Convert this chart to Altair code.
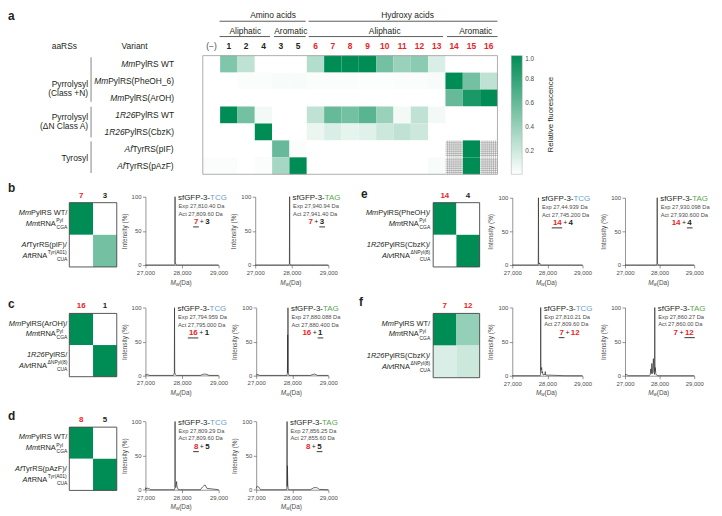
import altair as alt
import pandas as pd

W, H = 714, 508


def X(v):
    return v - 8


def Y(v):
    return v - 8


FONT = "Liberation Sans"
GREEN = "#008c55"
RED = "#ec2227"
DARK = "#231f20"
MID = "#4d4d4d"
TCG_C = "#6b9cc9"
TAG_C = "#5aa552"

# ---------------------------------------------------------------- data
a_columns = ["(−)", "1", "2", "4", "3", "5", "6", "7", "8", "9", "10", "11", "12", "13", "14", "15", "16"]
a_rows = ["MmPylRS WT", "MmPylRS(PheOH_6)", "MmPylRS(ArOH)", "1R26PylRS WT",
          "1R26PylRS(CbzK)", "AfTyrRS(pIF)", "AfTyrRS(pAzF)"]
a_values = [
    [0.00, 0.50, 0.25, 0.00, 0.00, 0.00, 0.30, 1.00, 1.00, 1.00, 0.55, 0.40, 0.45, 0.15, 0.00, 0.00, 0.00],
    [0.00, 0.00, 0.02, 0.02, 0.03, 0.03, 0.02, 0.02, 0.02, 0.01, 0.01, 0.02, 0.02, 0.03, 1.00, 0.55, 0.25],
    [0.00, 0.00, 0.00, 0.00, 0.00, 0.00, 0.00, 0.00, 0.00, 0.00, 0.00, 0.00, 0.00, 0.00, 0.60, 0.90, 1.00],
    [0.00, 1.00, 0.55, 0.05, 0.00, 0.00, 0.25, 0.60, 0.55, 0.65, 0.40, 0.05, 0.25, 0.05, 0.00, 0.00, 0.00],
    [0.00, 0.00, 0.00, 1.00, 0.00, 0.00, 0.08, 0.15, 0.10, 0.12, 0.20, 0.25, 0.20, 0.00, 0.00, 0.00, 0.00],
    [0.00, 0.00, 0.00, 0.00, 0.60, 0.02, 0.00, 0.00, 0.00, 0.00, 0.00, 0.00, 0.00, 0.00, None, 1.00, None],
    [0.02, 0.02, 0.00, 0.02, 0.35, 1.00, 0.00, 0.00, 0.00, 0.00, 0.00, 0.00, 0.00, 0.03, None, 1.00, None],
]
a_groups = [(["Pyrrolysyl", "(Class +N)"], [82, 91], 55, 100),
            (["Pyrrolysyl", "(ΔN Class A)"], [115, 124], 105, 136),
            (["Tyrosyl"], [157], 140, 172)]

heat_b = [[1.0, 0.0], [0.0, 0.55]]
heat_c = [[1.0, 0.0], [0.0, 1.0]]
heat_d = [[1.0, 0.0], [0.0, 1.0]]
heat_e = [[1.0, 0.0], [0.0, 1.0]]
heat_f = [[1.0, 0.42], [0.15, 0.20]]

# mass spectra (Da, intensity %)
b_tcg_mass = [27000, 27790, 27800, 27805, 27809.6, 27813, 27820, 27830, 27840, 29000]
b_tcg_int = [0, 0, 0.5, 2, 100, 3, 1.5, 2, 0, 0]
b_tag_mass = [27000, 27925, 27935, 27941.4, 27946, 27955, 27965, 29000]
b_tag_int = [0, 0, 1, 100, 2, 1.5, 0, 0]
c_tcg_mass = [27000, 27010, 27030, 27060, 27100, 27760, 27775, 27790, 27795, 27800, 27810, 27830, 27850,
              28500, 28560, 28620, 28680, 28740, 29000]
c_tcg_int = [0, 1.5, 1, 1.5, 0, 0, 1, 4, 100, 5, 2, 1, 0, 0, 1.5, 2, 1.5, 0, 0]
c_tag_mass = [27000, 27020, 27050, 27100, 27850, 27865, 27872, 27876, 27880.4, 27885, 27895, 27910,
              28500, 28570, 28620, 28700, 29000]
c_tag_int = [0, 1.5, 1, 0, 0, 3, 60, 4, 100, 5, 2, 0, 0, 1.5, 2, 0, 0]
d_tcg_mass = [27000, 27010, 27030, 27050, 27080, 27100, 27130, 27790, 27800, 27805, 27809.6, 27815, 27830,
              27845, 27852, 27860, 27875, 27900, 28500, 28560, 28600, 28630, 28680, 29000]
d_tcg_int = [0, 3, 1, 2.5, 1.5, 2, 0, 0, 1, 3, 100, 5, 3, 8, 12, 6, 3, 0, 0, 4, 6, 7, 2, 0]
d_tag_mass = [27000, 27020, 27040, 27070, 27100, 27130, 27840, 27850, 27855.6, 27860, 27866, 27870, 27875,
              27885, 27900, 28500, 28550, 28600, 28650, 28700, 28750, 29000]
d_tag_int = [2, 4.5, 5, 4, 1.5, 0, 0, 1, 100, 5, 35, 20, 8, 2, 0, 0, 1.5, 3, 3.2, 2.5, 0.5, 0]
e_tcg_mass = [27000, 27730, 27740, 27745.2, 27750, 27760, 27780, 27790, 27800, 29000]
e_tcg_int = [0, 0, 1, 100, 3, 1, 3, 1, 0, 0]
e_tag_mass = [27000, 27915, 27925, 27930.6, 27936, 27945, 27960, 29000]
e_tag_int = [0, 0, 1.5, 100, 3, 1.5, 0, 0]
f_tcg_mass = [27000, 27795, 27805, 27809.6, 27815, 27830, 27838, 27845, 27860, 27868, 27880, 27930, 27940,
              27950, 28500, 29000]
f_tcg_int = [0, 0, 2, 100, 8, 10, 12, 4, 6, 3, 1, 2, 6, 1, 0, 0]
f_tag_mass = [27000, 27030, 27060, 27100, 27700, 27730, 27745, 27760, 27775, 27790, 27800, 27820, 27835,
              27850, 27855, 27860, 27865, 27875, 27890, 27910, 27950, 28500, 29000]
f_tag_int = [1.5, 2, 1, 0, 0, 2, 10, 3, 18, 5, 3, 25, 6, 4, 2, 100, 6, 12, 3, 1, 0, 0, 0]

# ---------------------------------------------------------------- helpers
_W = {' ': 278, '!': 278, '(': 333, ')': 333, '+': 584, ',': 278, '-': 333, '.': 278, '/': 278,
      ':': 278, '_': 556, '%': 889, 'Δ': 612, '−': 584}
for _ch in '0123456789':
    _W[_ch] = 556
_W.update(dict(zip('ABCDEFGHIJKLMNOPQRSTUVWXYZ',
                   [667, 667, 722, 722, 667, 611, 778, 722, 278, 500, 667, 556, 833, 722, 778, 667, 778,
                    722, 667, 611, 722, 667, 944, 667, 667, 611])))
_W.update(dict(zip('abcdefghijklmnopqrstuvwxyz',
                   [556, 556, 500, 556, 556, 278, 556, 556, 222, 222, 500, 222, 833, 556, 556, 556, 556,
                    333, 500, 278, 556, 500, 722, 500, 500, 500])))


def tw(s, size, bold=False):
    return sum(_W.get(c, 556) for c in s) * size / 1000.0 * (1.07 if bold else 1.0)


TEXT = []
RULES = []


def txt(x, y, t, size=8.0, color=DARK, weight="normal", style="normal", align="left",
        baseline="middle", angle=0):
    TEXT.append(dict(x=X(x), y=Y(y), t=t, s=float(size), c=color, weight=weight, style=style,
                     align=align, baseline=baseline, a=angle))


def rich(x, y, parts, align="left"):
    # parts: (text, size, style, weight, color, dy)
    total = sum(tw(p[0], p[1], p[3] == "bold") for p in parts)
    cur = x - total if align == "right" else (x - total / 2 if align == "center" else x)
    for t, size, style, weight, color, dy in parts:
        if t:
            txt(cur, y + dy, t, size, color, weight, style)
        cur += tw(t, size, weight == "bold")


def rule(x1, y1, x2, y2, c=DARK, w=0.8):
    RULES.append(dict(x=X(x1), y=Y(y1), x2=X(x2), y2=Y(y2), c=c, w=float(w)))


def italic_split(label, prefixes=("1R26", "Alv", "Mm", "Af")):
    for p in prefixes:
        if label.startswith(p):
            return p, label[len(p):]
    return "", label


PXS = alt.Scale(domain=[0, W], range=[0, W], nice=False, zero=False)
PYS = alt.Scale(domain=[0, H], range=[0, H], nice=False, zero=False)

CSCALE = alt.Scale(type="linear", domain=[0, 1], range=["#ffffff", GREEN], interpolate="rgb",
                   nice=False, zero=False)
LEGEND = alt.Legend(orient="none", legendX=X(517), legendY=Y(53.3), direction="vertical",
                    gradientLength=120, gradientThickness=11, values=[0.2, 0.4, 0.6, 0.8, 1.0],
                    format=".1f", title=None, labelFont=FONT, labelFontSize=6.5, labelColor=MID,
                    labelOffset=3, gradientStrokeColor="#aaaaaa", gradientStrokeWidth=0.5)


def color_enc():
    return alt.Color("v:Q", scale=CSCALE, legend=LEGEND)


layers = []

# ---------------------------------------------------------------- panel a
ax0, ax1, ay0, ay1 = 205, 503, 53.3, 173.3
ncol, nrow = len(a_columns), len(a_rows)
cw = (ax1 - ax0) / ncol
rh = (ay1 - ay0) / nrow
AX = alt.Scale(domain=[0, ncol], range=[X(ax0), X(ax1)], nice=False, zero=False)
AY = alt.Scale(domain=[0, nrow], range=[Y(ay0), Y(ay1)], nice=False, zero=False)

cells, hatch = [], []
for r, row in enumerate(a_values):
    for c, v in enumerate(row):
        if v is None:
            cells.append(dict(x0=c, x1=c + 1, y0=r, y1=r + 1, v=0.0))
            for k in range(1, 9):
                hatch.append(dict(x0=c + k / 9, x1=c + k / 9, y0=r, y1=r + 1))
                hatch.append(dict(x0=c, x1=c + 1, y0=r + k / 9, y1=r + k / 9))
        else:
            cells.append(dict(x0=c, x1=c + 1, y0=r, y1=r + 1, v=v))

layers.append(alt.Chart(pd.DataFrame(cells)).mark_rect(opacity=1).encode(
    x=alt.X("x0:Q", scale=AX, axis=None), x2="x1:Q",
    y=alt.Y("y0:Q", scale=AY, axis=None), y2="y1:Q", color=color_enc()))
layers.append(alt.Chart(pd.DataFrame(hatch)).mark_rule(color="#7a7a7a", strokeWidth=0.45).encode(
    x=alt.X("x0:Q", scale=AX, axis=None), x2="x1:Q",
    y=alt.Y("y0:Q", scale=AY, axis=None), y2="y1:Q"))
layers.append(alt.Chart(pd.DataFrame([dict(x0=0, x1=ncol, y0=0, y1=nrow)])).mark_rect(
    fillOpacity=0, stroke="#9a9a9a", strokeWidth=0.8).encode(
    x=alt.X("x0:Q", scale=AX, axis=None), x2="x1:Q",
    y=alt.Y("y0:Q", scale=AY, axis=None), y2="y1:Q"))

txt(8, 8, "a", 12, DARK, "bold", baseline="top")
for t, x in [("Amino acids", 276), ("Hydroxy acids", 412)]:
    txt(x, 12.5, t, 8.5, DARK, align="center")
for t, x in [("Aliphatic", 248), ("Aromatic", 294), ("Aliphatic", 389), ("Aromatic", 481)]:
    txt(x, 28, t, 8.5, DARK, align="center")
for x1, x2 in [(222, 309), (312, 503)]:
    rule(x1, 18.5, x2, 18.5, "#333333", 0.8)
for x1, x2 in [(222, 273), (277, 309), (312, 448), (452, 503)]:
    rule(x1, 34, x2, 34, "#333333", 0.8)
for i, col in enumerate(a_columns):
    cx = ax0 + (i + 0.5) * cw
    if col == "(−)":
        txt(cx, 44, col, 8.5, MID, align="center")
    else:
        txt(cx, 44, col, 8.5, RED if int(col) >= 6 else DARK, "bold", align="center")
txt(65, 44, "aaRSs", 8.5, DARK, align="center")
txt(136, 44, "Variant", 8.5, DARK, align="center")
for r, lab in enumerate(a_rows):
    p, rest = italic_split(lab)
    rich(176, ay0 + (r + 0.5) * rh, [(p, 8.5, "italic", "normal", DARK, 0),
                                     (rest, 8.5, "normal", "normal", DARK, 0)], align="right")
for lines, ys, y1, y2 in a_groups:
    for t, y in zip(lines, ys):
        txt(89, y, t, 8.5, DARK, align="right")
    rule(92, y1, 92, y2, "#777777", 0.9)
txt(557, 113, "Relative fluorescence", 8, DARK, align="center", angle=270)

# ---------------------------------------------------------------- panels b-f
panels = [
    dict(letter="b", lx=8, ly=187, hx=(70, 118), hy=(202, 267), E=68, heat=heat_b, cols=["7", "3"],
         rows=[("MmPylRS WT/", "MmtRNA", "Pyl", "CGA"), ("AfTyrRS(pIF)/", "AftRNA", "Tyr(A01)", "CUA")],
         sx=[(147, 221), (258, 332)], sy=(265, 196),
         spec=[(b_tcg_mass, b_tcg_int, 27809.6, "Exp 27,810.40 Da", "Act 27,809.60 Da"),
               (b_tag_mass, b_tag_int, 27941.4, "Exp 27,940.94 Da", "Act 27,941.40 Da")]),
    dict(letter="c", lx=8, ly=305, hx=(70, 118), hy=(314, 378), E=68, heat=heat_c, cols=["16", "1"],
         rows=[("MmPylRS(ArOH)/", "MmtRNA", "Pyl", "CGA"), ("1R26PylRS/", "AlvtRNA", "ΔNPyl(8)", "CUA")],
         sx=[(147, 221), (259, 332)], sy=(376.7, 308.3),
         spec=[(c_tcg_mass, c_tcg_int, 27795.0, "Exp 27,794.959 Da", "Act 27,795.000 Da"),
               (c_tag_mass, c_tag_int, 27880.4, "Exp 27,880.088 Da", "Act 27,880.400 Da")]),
    dict(letter="d", lx=8, ly=418, hx=(70, 118), hy=(429, 493), E=68, heat=heat_d, cols=["8", "5"],
         rows=[("MmPylRS WT/", "MmtRNA", "Pyl", "CGA"), ("AfTyrRS(pAzF)/", "AftRNA", "Tyr(A01)", "CUA")],
         sx=[(147, 221), (259, 332)], sy=(492.3, 423.3),
         spec=[(d_tcg_mass, d_tcg_int, 27809.6, "Exp 27,809.29 Da", "Act 27,809.60 Da"),
               (d_tag_mass, d_tag_int, 27855.6, "Exp 27,856.25 Da", "Act 27,855.60 Da")]),
    dict(letter="e", lx=365, ly=193, hx=(438, 485), hy=(202, 267), E=435, heat=heat_e, cols=["14", "4"],
         rows=[("MmPylRS(PheOH)/", "MmtRNA", "Pyl", "CGA"),
               ("1R26PylRS(CbzK)/", "AlvtRNA", "ΔNPyl(8)", "CUA")],
         sx=[(518, 589), (632, 702)], sy=(265, 197),
         spec=[(e_tcg_mass, e_tcg_int, 27745.2, "Exp 27,44.939 Da", "Act 27,745.200 Da"),
               (e_tag_mass, e_tag_int, 27930.6, "Exp 27,930.098 Da", "Act 27,930.600 Da")]),
    dict(letter="f", lx=363, ly=302, hx=(438, 485), hy=(314, 379), E=435, heat=heat_f, cols=["7", "12"],
         rows=[("MmPylRS WT/", "MmtRNA", "Pyl", "CGA"),
               ("1R26PylRS(CbzK)/", "AlvtRNA", "ΔNPyl(8)", "CUA")],
         sx=[(518, 589), (632, 702)], sy=(377, 308),
         spec=[(f_tcg_mass, f_tcg_int, 27809.6, "Exp 27,810.21 Da", "Act 27,809.60 Da"),
               (f_tag_mass, f_tag_int, 27860.0, "Exp 27,860.27 Da", "Act 27,860.00 Da")]),
]

AXSTYLE = dict(labelFont=FONT, labelFontSize=6, labelColor=MID, tickColor=MID, domainColor=MID,
               tickSize=3, tickWidth=0.6, domainWidth=0.6, labelPadding=1.5, grid=False,
               labelFlush=False, labelOverlap=False, titleFont=FONT, titleFontSize=6.5,
               titleFontWeight="normal", titleColor=MID)

LS = 7.5   # label font size, small heat maps
SS = 5.0   # super/subscript size


def num_color(n):
    return RED if int(n) >= 6 else DARK


for P in panels:
    hx0, hx1 = P["hx"]
    hy0, hy1 = P["hy"]
    HX = alt.Scale(domain=[0, 2], range=[X(hx0), X(hx1)], nice=False, zero=False)
    HY = alt.Scale(domain=[0, 2], range=[Y(hy0), Y(hy1)], nice=False, zero=False)
    hc = [dict(x0=c, x1=c + 1, y0=r, y1=r + 1, v=v) for r, row in enumerate(P["heat"]) for c, v in enumerate(row)]
    layers.append(alt.Chart(pd.DataFrame(hc)).mark_rect(opacity=1).encode(
        x=alt.X("x0:Q", scale=HX, axis=None), x2="x1:Q",
        y=alt.Y("y0:Q", scale=HY, axis=None), y2="y1:Q", color=color_enc()))
    layers.append(alt.Chart(pd.DataFrame([dict(x0=0, x1=2, y0=0, y1=2)])).mark_rect(
        fillOpacity=0, stroke="#444444", strokeWidth=0.9).encode(
        x=alt.X("x0:Q", scale=HX, axis=None), x2="x1:Q",
        y=alt.Y("y0:Q", scale=HY, axis=None), y2="y1:Q"))

    txt(P["lx"], P["ly"], P["letter"], 12, DARK, "bold")
    for i, n in enumerate(P["cols"]):
        txt(hx0 + (i + 0.5) * (hx1 - hx0) / 2, hy0 - 7, n, 8, num_color(n), "bold", align="center")
    E = P["E"]
    for r, (l1, l2, sup, sub) in enumerate(P["rows"]):
        rc = hy0 + (r + 0.5) * (hy1 - hy0) / 2
        p, rest = italic_split(l1)
        rich(E, rc - 5.5, [(p, LS, "italic", "normal", DARK, 0), (rest, LS, "normal", "normal", DARK, 0)],
             align="right")
        m = E - max(tw(sup, SS), tw(sub, SS)) - 0.8
        p, rest = italic_split(l2)
        rich(m, rc + 5, [(p, LS, "italic", "normal", DARK, 0), (rest, LS, "normal", "normal", DARK, 0)],
             align="right")
        txt(m + 0.5, rc + 1.6, sup, SS, DARK)
        txt(E, rc + 8.2, sub, SS, DARK, align="right")

    y0, y100 = P["sy"]
    n1, n2 = P["cols"]
    for k, ((mass, inten, peak, exp_t, act_t), (x0, x1)) in enumerate(zip(P["spec"], P["sx"])):
        xs = alt.Scale(domain=[27000, 29000], range=[X(x0), X(x1)], nice=False, zero=False)
        ys = alt.Scale(domain=[0, 100], range=[Y(y0), Y(y100)], nice=False, zero=False)
        layers.append(alt.Chart(pd.DataFrame({"m": mass, "i": inten})).mark_line(
            color="#2e2e2e", strokeWidth=0.7).encode(
            x=alt.X("m:Q", scale=xs, axis=alt.Axis(orient="bottom", offset=Y(y0) - H,
                                                   values=[27000, 28000, 29000], format=",d",
                                                   title=None, **AXSTYLE)),
            y=alt.Y("i:Q", scale=ys, axis=alt.Axis(orient="left", offset=-X(x0), values=[0, 50, 100],
                                                   title="Intensity (%)", titlePadding=4, **AXSTYLE))))
        pk = x0 + (peak - 27000) / 2000 * (x1 - x0)
        codon, ccol = ("TCG", TCG_C) if k == 0 else ("TAG", TAG_C)
        rich(pk + 3, y100 + 1.5, [("sfGFP-3-", 8, "normal", "normal", DARK, 0),
                                  (codon, 8, "normal", "normal", ccol, 0)])
        txt(pk + 3.5, y100 + 9.5, exp_t, 5.8, MID)
        txt(pk + 3.5, y100 + 17, act_t, 5.8, MID)
        cx = pk + 27
        ey = y100 + 25.5
        txt(cx - 3.5, ey, n1, 8, num_color(n1), "bold", align="right")
        txt(cx, ey, "+", 7, DARK, align="center")
        txt(cx + 3.5, ey, n2, 8, num_color(n2), "bold")
        if k == 0:
            rule(cx - 3.5 - tw(n1, 8, True) - 0.5, ey + 5, cx - 3, ey + 5, DARK, 0.9)
        else:
            rule(cx + 3, ey + 5, cx + 3.5 + tw(n2, 8, True) + 0.5, ey + 5, DARK, 0.9)
        mx = (x0 + x1) / 2
        rich(mx, y0 + 18, [("M", 6.5, "italic", "normal", MID, 0), ("w", 4.5, "italic", "normal", MID, 2),
                           (" (Da)", 6.5, "normal", "normal", MID, 0)], align="center")

# ---------------------------------------------------------------- annotation layers
rdf = pd.DataFrame(RULES)
for (c, w), g in rdf.groupby(["c", "w"]):
    layers.append(alt.Chart(g.reset_index(drop=True)).mark_rule(color=c, strokeWidth=w).encode(
        x=alt.X("x:Q", scale=PXS, axis=None), x2="x2:Q",
        y=alt.Y("y:Q", scale=PYS, axis=None), y2="y2:Q"))

tdf = pd.DataFrame(TEXT)
for (weight, style, align, baseline, c, s, a), g in tdf.groupby(
        ["weight", "style", "align", "baseline", "c", "s", "a"]):
    layers.append(alt.Chart(g.reset_index(drop=True)).mark_text(
        font=FONT, fontWeight=weight, fontStyle=style, align=align, baseline=baseline,
        color=c, fontSize=float(s), angle=int(a)).encode(
        x=alt.X("x:Q", scale=PXS, axis=None), y=alt.Y("y:Q", scale=PYS, axis=None),
        text="t:N"))

chart = alt.layer(*layers).resolve_scale(x="independent", y="independent").properties(
    width=W, height=H, padding=0, background="white",
    autosize=alt.AutoSizeParams(type="none")).configure_view(stroke=None)

chart.save("out.html", embed_options={"renderer": "svg", "actions": False})
